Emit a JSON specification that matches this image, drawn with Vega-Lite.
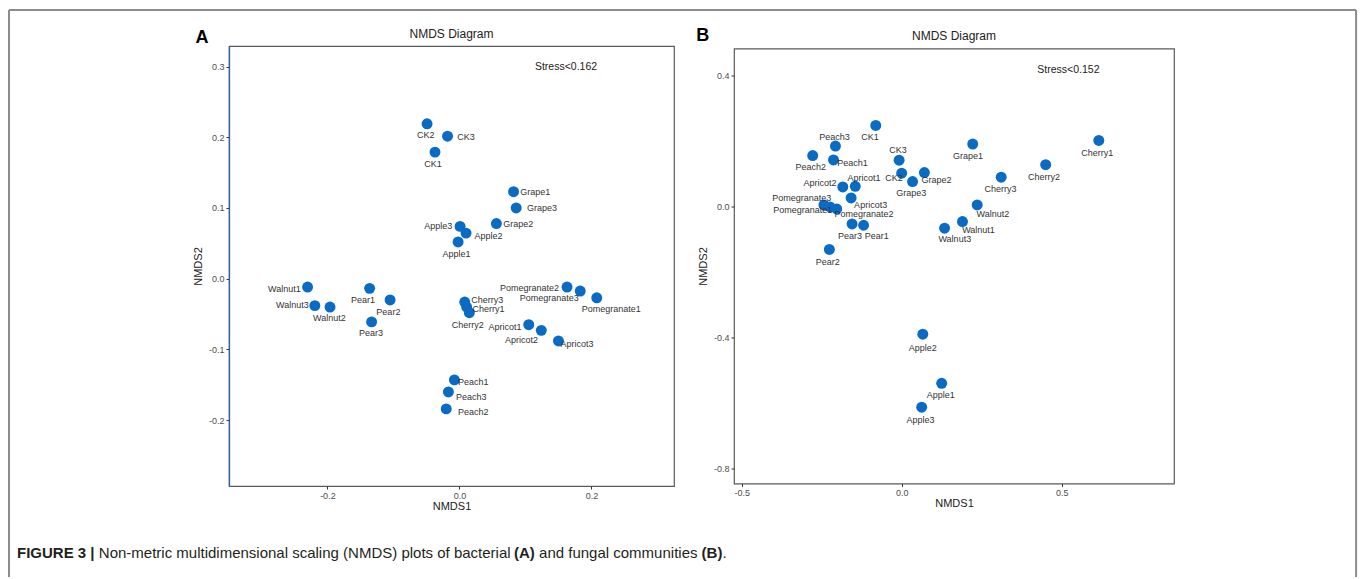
{
  "$schema": "https://vega.github.io/schema/vega-lite/v6.json",
  "background": "white",
  "padding": {"left": 7, "top": 8, "right": 0, "bottom": 0},
  "autosize": {"type": "pad"},
  "spacing": 60,
  "bounds": "flush",
  "center": true,
  "config": {
    "font": "Liberation Sans",
    "view": {"stroke": "#5a5a5a", "strokeWidth": 1.2},
    "axis": {"grid": false, "domain": false, "tickColor": "#333333", "tickSize": 3, "labelFontSize": 9, "labelColor": "#4d4d4d", "labelPadding": 2, "titleFontSize": 11, "titleFontWeight": "normal", "titleColor": "#1a1a1a"},
    "axisX": {"titlePadding": 0},
    "axisY": {"titlePadding": 5}
  },
  "hconcat": [
    {
      "width": 445,
      "height": 440,
      "data": {"values": [
        {"name": "CK1", "x": -0.037, "y": 0.179, "lx": -0.040, "ly": 0.162},
        {"name": "CK2", "x": -0.049, "y": 0.219, "lx": -0.051, "ly": 0.203},
        {"name": "CK3", "x": -0.018, "y": 0.2015, "lx": 0.010, "ly": 0.1997},
        {"name": "Grape1", "x": 0.082, "y": 0.123, "lx": 0.115, "ly": 0.1225},
        {"name": "Grape2", "x": 0.056, "y": 0.078, "lx": 0.089, "ly": 0.078},
        {"name": "Grape3", "x": 0.086, "y": 0.100, "lx": 0.125, "ly": 0.0998},
        {"name": "Apple1", "x": -0.002, "y": 0.052, "lx": -0.0045, "ly": 0.035},
        {"name": "Apple2", "x": 0.010, "y": 0.0645, "lx": 0.044, "ly": 0.060},
        {"name": "Apple3", "x": 0.001, "y": 0.074, "lx": -0.032, "ly": 0.075},
        {"name": "Walnut1", "x": -0.230, "y": -0.0117, "lx": -0.265, "ly": -0.0145},
        {"name": "Walnut2", "x": -0.196, "y": -0.040, "lx": -0.197, "ly": -0.055},
        {"name": "Walnut3", "x": -0.219, "y": -0.038, "lx": -0.253, "ly": -0.0376},
        {"name": "Pear1", "x": -0.136, "y": -0.0136, "lx": -0.146, "ly": -0.0297},
        {"name": "Pear2", "x": -0.105, "y": -0.030, "lx": -0.1076, "ly": -0.0475},
        {"name": "Pear3", "x": -0.133, "y": -0.061, "lx": -0.134, "ly": -0.0767},
        {"name": "Cherry1", "x": 0.015, "y": -0.048, "lx": 0.044, "ly": -0.043},
        {"name": "Cherry2", "x": 0.011, "y": -0.040, "lx": 0.0127, "ly": -0.066},
        {"name": "Cherry3", "x": 0.008, "y": -0.033, "lx": 0.042, "ly": -0.030},
        {"name": "Pomegranate1", "x": 0.208, "y": -0.027, "lx": 0.230, "ly": -0.0428},
        {"name": "Pomegranate2", "x": 0.163, "y": -0.0117, "lx": 0.106, "ly": -0.0136},
        {"name": "Pomegranate3", "x": 0.183, "y": -0.0174, "lx": 0.136, "ly": -0.027},
        {"name": "Apricot1", "x": 0.105, "y": -0.065, "lx": 0.069, "ly": -0.0687},
        {"name": "Apricot2", "x": 0.124, "y": -0.073, "lx": 0.094, "ly": -0.0866},
        {"name": "Apricot3", "x": 0.150, "y": -0.088, "lx": 0.178, "ly": -0.0927},
        {"name": "Peach1", "x": -0.0076, "y": -0.143, "lx": 0.021, "ly": -0.146},
        {"name": "Peach2", "x": -0.020, "y": -0.184, "lx": 0.021, "ly": -0.188},
        {"name": "Peach3", "x": -0.0167, "y": -0.160, "lx": 0.018, "ly": -0.1667}
      ]},
      "layer": [
        {
          "mark": {"type": "circle", "size": 120, "opacity": 1, "color": "#0a6bc4"},
          "encoding": {
            "x": {"field": "x", "type": "quantitative", "title": "NMDS1", "scale": {"domain": [-0.349, 0.325], "nice": false, "zero": false}, "axis": {"title": "NMDS1", "values": [-0.2, 0, 0.2], "labelExpr": "replace(format(datum.value, '.1f'), '\u2212', '-')"}},
            "y": {"field": "y", "type": "quantitative", "title": "NMDS2", "scale": {"domain": [-0.293, 0.329], "nice": false, "zero": false}, "axis": {"title": "NMDS2", "values": [-0.2, -0.1, 0, 0.1, 0.2, 0.3], "labelExpr": "replace(format(datum.value, '.1f'), '\u2212', '-')", "domain": true, "domainColor": "#2a62b0", "domainWidth": 1.3}}
          }
        },
        {
          "mark": {"type": "text", "fontSize": 9, "color": "#333333", "align": "center", "baseline": "middle"},
          "encoding": {
            "x": {"field": "lx", "type": "quantitative", "title": "NMDS1"},
            "y": {"field": "ly", "type": "quantitative", "title": "NMDS2"},
            "text": {"field": "name"}
          }
        },
        {
          "data": {"values": [{"t": "NMDS Diagram"}]},
          "mark": {"type": "text", "fontSize": 12, "color": "#222222", "align": "center", "baseline": "middle", "clip": false},
          "encoding": {
            "x": {"datum": -0.012, "type": "quantitative", "title": "NMDS1"},
            "y": {"datum": 0.346, "type": "quantitative", "title": "NMDS2"},
            "text": {"field": "t"}
          }
        },
        {
          "data": {"values": [{"t": "Stress<0.162"}]},
          "mark": {"type": "text", "fontSize": 10.5, "color": "#222222", "align": "center", "baseline": "middle"},
          "encoding": {
            "x": {"datum": 0.1614, "type": "quantitative", "title": "NMDS1"},
            "y": {"datum": 0.2993, "type": "quantitative", "title": "NMDS2"},
            "text": {"field": "t"}
          }
        },
        {
          "data": {"values": [{"t": "A"}]},
          "mark": {"type": "text", "fontSize": 18, "fontWeight": "bold", "color": "#000000", "align": "center", "baseline": "middle", "clip": false},
          "encoding": {
            "x": {"datum": -0.3899, "type": "quantitative", "title": "NMDS1"},
            "y": {"datum": 0.3403, "type": "quantitative", "title": "NMDS2"},
            "text": {"field": "t"}
          }
        },
        {
          "data": {"values": [{}]},
          "mark": {"type": "rule", "clip": false, "color": "#8c8c8c", "strokeWidth": 2},
          "encoding": {
            "x": {"datum": -0.6822, "type": "quantitative", "title": "NMDS1"},
            "x2": {"datum": 1.3581},
            "y": {"datum": 0.3799, "type": "quantitative", "title": "NMDS2"}
          }
        },
        {
          "data": {"values": [{}]},
          "mark": {"type": "rule", "clip": false, "color": "#8c8c8c", "strokeWidth": 2},
          "encoding": {
            "x": {"datum": -0.6822, "type": "quantitative", "title": "NMDS1"},
            "y": {"datum": 0.3799, "type": "quantitative", "title": "NMDS2"},
            "y2": {"datum": -0.4216}
          }
        },
        {
          "data": {"values": [{}]},
          "mark": {"type": "rule", "clip": false, "color": "#8c8c8c", "strokeWidth": 2},
          "encoding": {
            "x": {"datum": 1.3581, "type": "quantitative", "title": "NMDS1"},
            "y": {"datum": 0.3799, "type": "quantitative", "title": "NMDS2"},
            "y2": {"datum": -0.4216}
          }
        },
        {
          "data": {"values": [{"t": "FIGURE 3 |"}]},
          "mark": {"type": "text", "fontSize": 15, "fontWeight": "bold", "color": "#231f20", "align": "left", "baseline": "middle", "clip": false},
          "encoding": {
            "x": {"datum": -0.6701, "type": "quantitative", "title": "NMDS1"},
            "y": {"datum": -0.3877, "type": "quantitative", "title": "NMDS2"},
            "text": {"field": "t"}
          }
        },
        {
          "data": {"values": [{"t": "Non-metric multidimensional scaling (NMDS) plots of bacterial"}]},
          "mark": {"type": "text", "fontSize": 15, "color": "#231f20", "align": "left", "baseline": "middle", "clip": false},
          "encoding": {
            "x": {"datum": -0.5462, "type": "quantitative", "title": "NMDS1"},
            "y": {"datum": -0.3877, "type": "quantitative", "title": "NMDS2"},
            "text": {"field": "t"}
          }
        },
        {
          "data": {"values": [{"t": "(A)"}]},
          "mark": {"type": "text", "fontSize": 15, "fontWeight": "bold", "color": "#231f20", "align": "left", "baseline": "middle", "clip": false},
          "encoding": {
            "x": {"datum": 0.0827, "type": "quantitative", "title": "NMDS1"},
            "y": {"datum": -0.3877, "type": "quantitative", "title": "NMDS2"},
            "text": {"field": "t"}
          }
        },
        {
          "data": {"values": [{"t": "and fungal communities"}]},
          "mark": {"type": "text", "fontSize": 15, "color": "#231f20", "align": "left", "baseline": "middle", "clip": false},
          "encoding": {
            "x": {"datum": 0.1206, "type": "quantitative", "title": "NMDS1"},
            "y": {"datum": -0.3877, "type": "quantitative", "title": "NMDS2"},
            "text": {"field": "t"}
          }
        },
        {
          "data": {"values": [{"t": "(B)"}]},
          "mark": {"type": "text", "fontSize": 15, "fontWeight": "bold", "color": "#231f20", "align": "left", "baseline": "middle", "clip": false},
          "encoding": {
            "x": {"datum": 0.3668, "type": "quantitative", "title": "NMDS1"},
            "y": {"datum": -0.3877, "type": "quantitative", "title": "NMDS2"},
            "text": {"field": "t"}
          }
        },
        {
          "data": {"values": [{"t": "."}]},
          "mark": {"type": "text", "fontSize": 15, "color": "#231f20", "align": "left", "baseline": "middle", "clip": false},
          "encoding": {
            "x": {"datum": 0.3983, "type": "quantitative", "title": "NMDS1"},
            "y": {"datum": -0.3877, "type": "quantitative", "title": "NMDS2"},
            "text": {"field": "t"}
          }
        }
      ]
    },
    {
      "width": 440,
      "height": 435,
      "data": {"values": [
        {"name": "CK1", "x": -0.081, "y": 0.249, "lx": -0.099, "ly": 0.214},
        {"name": "CK2", "x": 0.0, "y": 0.103, "lx": -0.024, "ly": 0.0876},
        {"name": "CK3", "x": -0.008, "y": 0.1426, "lx": -0.0115, "ly": 0.174},
        {"name": "Peach1", "x": -0.213, "y": 0.1435, "lx": -0.154, "ly": 0.1355},
        {"name": "Peach2", "x": -0.278, "y": 0.157, "lx": -0.284, "ly": 0.121},
        {"name": "Peach3", "x": -0.207, "y": 0.186, "lx": -0.210, "ly": 0.215},
        {"name": "Grape1", "x": 0.222, "y": 0.192, "lx": 0.207, "ly": 0.156},
        {"name": "Grape2", "x": 0.071, "y": 0.105, "lx": 0.109, "ly": 0.0825},
        {"name": "Grape3", "x": 0.034, "y": 0.0775, "lx": 0.030, "ly": 0.042},
        {"name": "Cherry1", "x": 0.616, "y": 0.203, "lx": 0.611, "ly": 0.166},
        {"name": "Cherry2", "x": 0.450, "y": 0.129, "lx": 0.445, "ly": 0.0916},
        {"name": "Cherry3", "x": 0.311, "y": 0.0907, "lx": 0.309, "ly": 0.056},
        {"name": "Apricot1", "x": -0.145, "y": 0.063, "lx": -0.118, "ly": 0.0876},
        {"name": "Apricot2", "x": -0.184, "y": 0.061, "lx": -0.255, "ly": 0.073},
        {"name": "Apricot3", "x": -0.158, "y": 0.0275, "lx": -0.097, "ly": 0.005},
        {"name": "Pomegranate1", "x": -0.224, "y": 0.0, "lx": -0.309, "ly": -0.010},
        {"name": "Pomegranate2", "x": -0.203, "y": -0.006, "lx": -0.118, "ly": -0.023},
        {"name": "Pomegranate3", "x": -0.243, "y": 0.006, "lx": -0.3125, "ly": 0.0266},
        {"name": "Pear1", "x": -0.119, "y": -0.056, "lx": -0.078, "ly": -0.090},
        {"name": "Pear2", "x": -0.226, "y": -0.130, "lx": -0.231, "ly": -0.167},
        {"name": "Pear3", "x": -0.155, "y": -0.052, "lx": -0.1615, "ly": -0.0875},
        {"name": "Walnut1", "x": 0.190, "y": -0.0447, "lx": 0.240, "ly": -0.072},
        {"name": "Walnut2", "x": 0.236, "y": 0.006, "lx": 0.285, "ly": -0.021},
        {"name": "Walnut3", "x": 0.134, "y": -0.065, "lx": 0.166, "ly": -0.0966},
        {"name": "Apple1", "x": 0.125, "y": -0.539, "lx": 0.122, "ly": -0.575},
        {"name": "Apple2", "x": 0.066, "y": -0.389, "lx": 0.066, "ly": -0.431},
        {"name": "Apple3", "x": 0.0625, "y": -0.612, "lx": 0.059, "ly": -0.651}
      ]},
      "layer": [
        {
          "mark": {"type": "circle", "size": 120, "opacity": 1, "color": "#0a6bc4"},
          "encoding": {
            "x": {"field": "x", "type": "quantitative", "title": "NMDS1", "scale": {"domain": [-0.524, 0.851], "nice": false, "zero": false}, "axis": {"title": "NMDS1", "values": [-0.5, 0, 0.5], "labelExpr": "replace(format(datum.value, '.1f'), '\u2212', '-')"}},
            "y": {"field": "y", "type": "quantitative", "title": "NMDS2", "scale": {"domain": [-0.845, 0.484], "nice": false, "zero": false}, "axis": {"title": "NMDS2", "values": [-0.8, -0.4, 0, 0.4], "labelExpr": "replace(format(datum.value, '.1f'), '\u2212', '-')"}}
          }
        },
        {
          "mark": {"type": "text", "fontSize": 9, "color": "#333333", "align": "center", "baseline": "middle"},
          "encoding": {
            "x": {"field": "lx", "type": "quantitative", "title": "NMDS1"},
            "y": {"field": "ly", "type": "quantitative", "title": "NMDS2"},
            "text": {"field": "name"}
          }
        },
        {
          "data": {"values": [{"t": "NMDS Diagram"}]},
          "mark": {"type": "text", "fontSize": 12, "color": "#222222", "align": "center", "baseline": "middle", "clip": false},
          "encoding": {
            "x": {"datum": 0.1635, "type": "quantitative", "title": "NMDS1"},
            "y": {"datum": 0.5225, "type": "quantitative", "title": "NMDS2"},
            "text": {"field": "t"}
          }
        },
        {
          "data": {"values": [{"t": "Stress<0.152"}]},
          "mark": {"type": "text", "fontSize": 10.5, "color": "#222222", "align": "center", "baseline": "middle"},
          "encoding": {
            "x": {"datum": 0.521, "type": "quantitative", "title": "NMDS1"},
            "y": {"datum": 0.418, "type": "quantitative", "title": "NMDS2"},
            "text": {"field": "t"}
          }
        },
        {
          "data": {"values": [{"t": "B"}]},
          "mark": {"type": "text", "fontSize": 18, "fontWeight": "bold", "color": "#000000", "align": "center", "baseline": "middle", "clip": false},
          "encoding": {
            "x": {"datum": -0.622, "type": "quantitative", "title": "NMDS1"},
            "y": {"datum": 0.5216, "type": "quantitative", "title": "NMDS2"},
            "text": {"field": "t"}
          }
        }
      ]
    }
  ]
}
